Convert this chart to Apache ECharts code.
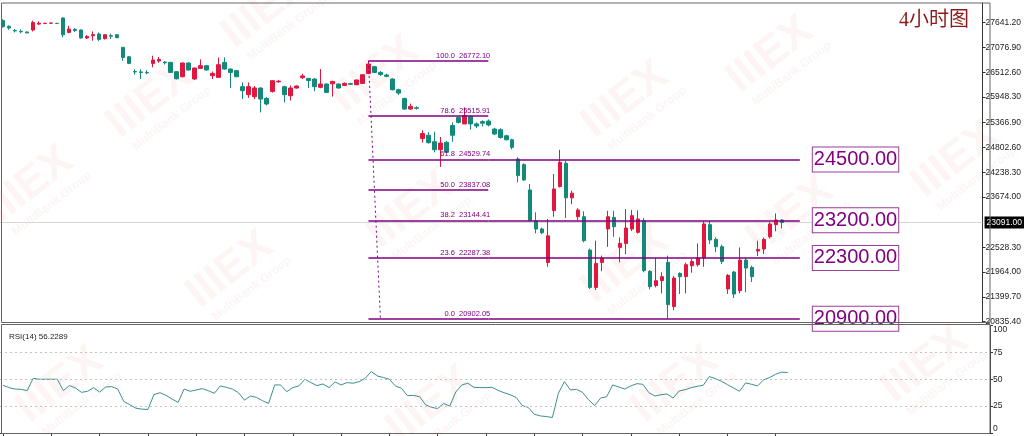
<!DOCTYPE html>
<html><head><meta charset="utf-8">
<script src="https://cdn.jsdelivr.net/npm/echarts@6/dist/echarts.min.js"></script>
<style>html,body{margin:0;padding:0;background:#fff}#c{width:1024px;height:436px}</style>
</head><body><div id="c"></div>
<script>
// ---- data ----
const opens = [27690,27560,27465,27445,27430,27475,27610,27625,27630,27625,
27748,27420,27490,27475,27293,27345,27383,27277,27345,27368,
27079,26866,26530,26520,26510,26715,26770,26745,26738,26526,
26412,26724,26360,26602,26664,26435,26397,26738,26587,26549,
26185,26003,25957,26155,25918,26078,26295,26185,25980,26155,
26390,26373,26360,26170,26246,26250,26246,26215,26255,26230,
26260,26487,26640,26510,26450,26360,26116,25918,25676,25705,
25004,25080,24933,24751,24918,25301,25486,25338,25512,25338,
25390,25403,25221,25206,25069,24978,24540,24412,23834,23136,
22946,22183,23363,23913,24443,23655,23226,23226,22467,21617,
22185,22946,23210,22527,22618,22946,22870,23136,21983,21657,
21770,22187,21179,21936,21861,22110,22133,22285,23045,22710,
22543,21580,21967,21542,22240,22072,22444,22490,22770,23045,
23151];
const closes = [27550,27520,27455,27435,27410,27648,27630,27627,27632,27623,
27367,27497,27462,27293,27330,27370,27262,27368,27335,27300,
26851,26715,26520,26510,26500,26792,26806,26730,26510,26365,
26724,26565,26610,26664,26565,26487,26686,26587,26510,26412,
26094,26185,26155,25904,25791,26321,26310,26003,26155,26200,
26430,26325,26185,26246,26055,26305,26155,26260,26240,26337,
26458,26701,26510,26465,26420,26116,26040,25676,25736,25695,
25118,24910,24751,24903,24690,25080,25372,25528,25338,25290,
25355,25315,25108,25030,24978,24804,24161,24063,23136,22946,
22860,22790,23857,24466,23655,23761,23379,22680,21617,22163,
22285,23226,22998,22618,22968,23249,23174,21998,21633,21770,
21861,21224,21830,21861,22133,22208,22285,23060,22696,22543,
22208,21891,21466,22240,22057,21861,22482,22710,23060,23151,
23091];
const lows = [27530,27480,27420,27400,27400,27443,27590,27610,27615,27610,
27307,27400,27430,27280,27270,27231,27220,27260,27270,27290,
26776,26700,26458,26360,26470,26626,26730,26690,26500,26350,
26400,26550,26340,26595,26550,26360,26390,26570,26155,26400,
25904,25930,25900,25600,25760,26050,26280,25828,25870,26140,
26360,26155,26080,26150,26040,25960,26140,26200,26225,26220,
26250,26470,26500,26430,26400,26100,26000,25660,25660,25665,
24913,24890,24690,24358,24680,24933,25350,25330,25206,25240,
25280,25280,25090,25000,24960,24760,24010,24040,23120,22847,
22830,22085,23226,23890,23196,23511,23140,22641,21580,21557,
21985,22540,22768,22187,22376,22900,22840,21960,21570,21617,
21480,20902.05,21100,21467,21480,21950,22090,22085,22605,22420,
22150,21467,21375,21480,21504,21740,22330,22376,22730,22892,
22960];
const highs = [27720,27580,27500,27490,27440,27686,27670,27640,27645,27640,
27762,27573,27520,27490,27360,27443,27420,27380,27390,27375,
27090,26880,26580,26580,26560,26890,26860,26770,26750,26540,
26740,26740,26620,26806,26680,26530,26851,26851,26600,26565,
26283,26280,26200,26170,25950,26330,26340,26208,26210,26215,
26480,26385,26380,26587,26260,26320,26260,26280,26275,26345,
26470,26772.1,26660,26540,26480,26375,26140,25935,25800,25740,
25193,25150,25160,25040,24950,25372,25510,25714,25530,25370,
25420,25440,25250,25240,25090,25000,24580,24440,23970,23325,
22980,23174,24197,24748,24503,23817,23420,23348,22500,22680,
22340,23360,23360,22755,23400,23380,23370,23200,22010,22285,
21960,22340,21880,21960,22180,22260,22618,23120,23130,22755,
22590,21920,21990,22527,22280,22110,22680,22750,23100,23300,
23170];
const rsi = [44.4,42.2,40.9,40.6,39.4,50.9,50.0,50.0,50.0,50.0,
39.4,44.1,41.9,37.8,38.8,42.2,38.1,42.8,43.1,40.9,
29.4,26.3,23.1,22.2,21.9,35.6,37.5,35.0,31.6,28.4,
40.9,38.8,40.0,41.3,39.4,36.9,43.8,42.5,40.9,37.5,
30.6,34.4,33.1,30.0,27.5,44.7,44.7,38.4,42.2,43.8,
50.0,46.9,44.1,45.6,42.2,47.5,44.7,46.9,46.3,47.8,
50.9,57.2,53.1,51.6,50.0,43.8,41.6,34.7,35.0,33.8,
26.3,23.8,22.8,27.5,25.0,38.1,44.7,46.3,42.5,42.2,
42.2,42.5,39.7,37.5,35.6,33.1,25.6,23.8,17.5,15.9,
15.3,14.4,36.9,47.8,40.0,40.6,37.8,30.9,25.6,32.5,
33.8,44.7,42.8,40.9,43.8,45.9,45.3,37.5,34.4,35.6,
36.3,32.5,39.1,40.3,42.2,43.4,44.4,52.5,50.6,48.1,
45.0,41.9,38.8,46.6,45.3,43.8,49.4,51.6,54.7,56.6,
56.2289];
const priceTicks = [27641.20,27076.90,26512.60,25948.30,25366.90,24802.60,24238.30,23674.00,22528.30,21964.00,21399.70,20835.40];
const rsiTicks = [0,25,50,75,100];
const rsiLevels = [25,50,75];
const currentPrice = 23091.00;
const fibRatios = [100.0,78.6,61.8,50.0,38.2,23.6,0.0];
const fibPrices = [26772.10,25515.91,24529.74,23837.08,23144.41,22287.38,20902.05];
const levelRatios = [61.8,38.2,23.6,0.0];
const levelLabels = ['24500.00','23200.00','22300.00','20900.00'];
const chartTitle = '4小时图';
const rsiTitle = 'RSI(14) 56.2289';
const totalSlots = 164;
const fibStart = 61, fibShortEnd = 81, levelEnd = 133, fibDashEnd = 63;

// ---- build ----
const cats = Array.from({length: totalSlots}, (_, i) => String(i));
const ohlc = opens.map((o, i) => [o, closes[i], lows[i], highs[i]]);
const PURPLE = '#800080';
const narrow = '"Liberation Sans Narrow","Liberation Sans",sans-serif';

const fibLines = [];
fibRatios.forEach((r, k) => {
  const p = fibPrices[k];
  fibLines.push([
    {coord: [fibStart, p], label: {show: true, position: 'insideEndTop', distance: [-2, 1],
      formatter: r.toFixed(1) + '  ' + p.toFixed(2), color: PURPLE, fontSize: 7.5, fontFamily: '"Liberation Sans",sans-serif'}},
    {coord: [fibShortEnd, p]}
  ]);
});
levelRatios.forEach((r, k) => {
  const p = fibPrices[fibRatios.indexOf(r)];
  fibLines.push([
    {coord: [fibShortEnd, p], label: {show: true, position: 'end', distance: 13,
      formatter: levelLabels[k], color: PURPLE, fontSize: 20, fontFamily: '"Liberation Sans",sans-serif',
      borderColor: '#9a3c9a', borderWidth: 1, padding: [3, 1, 1, 1], backgroundColor: '#fff'}},
    {coord: [levelEnd, p]}
  ]);
});
fibLines.push([
  {coord: [fibStart, fibPrices[0]], lineStyle: {type: [2, 3], width: 1, color: PURPLE}},
  {coord: [fibDashEnd, fibPrices[fibPrices.length - 1]]}
]);

function wm(x, y) {
  const fill = 'rgba(228,110,110,0.075)';
  return {type: 'group', x, y, rotation: 0.66, silent: true, z: 0, children: [
    {type: 'text', style: {text: 'IIIEX', font: 'bold 44px "Liberation Sans"', fill, align: 'center', verticalAlign: 'middle'}},
    {type: 'text', x: 6, y: 28, style: {text: 'MultiBank Group', font: 'bold 12px "Liberation Sans"', fill, align: 'center', verticalAlign: 'middle'}}
  ]};
}
const wmPos = [[375,75],[625,100],[770,55],[955,160],[30,185],[230,270],[410,210],[625,265],[790,215],[60,385],[430,405],[675,385],[925,365],[265,10],[150,100]];

const option = {
  animation: false,
  backgroundColor: '#fff',
  title: [
    {text: chartTitle, right: 50, top: 6, textStyle: {color: '#8b1a1a', fontSize: 20, fontWeight: 'normal', fontFamily: '"Liberation Serif","Noto Sans CJK SC",serif'}},
    {text: rsiTitle, left: 4, top: 328, textStyle: {color: '#222', fontSize: 8, fontWeight: 'normal', fontFamily: '"Liberation Sans",sans-serif'}}
  ],
  graphic: wmPos.map(p => wm(p[0], p[1])).concat([
    {type: 'rect', silent: true, z: 100, shape: {x: 1.5, y: 3, width: 988.5, height: 319.5}, style: {fill: 'none', stroke: '#666', lineWidth: 1}},
    {type: 'rect', silent: true, z: 100, shape: {x: 1.5, y: 324.5, width: 988.5, height: 109}, style: {fill: 'none', stroke: '#666', lineWidth: 1}}
  ]),
  grid: [
    {left: 0, right: 34, top: 3, height: 319},
    {left: 0, right: 34, top: 325.5, height: 107.5}
  ],
  xAxis: [
    {type: 'category', gridIndex: 0, data: cats, boundaryGap: true, axisLine: {show: false}, axisTick: {show: false}, axisLabel: {show: false}, splitLine: {show: false}},
    {type: 'category', gridIndex: 1, data: cats, boundaryGap: true,
      axisLine: {show: true, lineStyle: {color: '#444'}},
      axisTick: {show: true, alignWithLabel: true, length: 4, lineStyle: {color: '#444'}, interval: (i) => i % 8 === 0 && i < opens.length},
      axisLabel: {show: false}, splitLine: {show: false}}
  ],
  yAxis: [
    {type: 'value', gridIndex: 0, position: 'right', min: 20829, max: 28090, scale: true,
      axisLine: {show: true, lineStyle: {color: '#333'}},
      axisTick: {show: true, length: 3, customValues: priceTicks, lineStyle: {color: '#333'}},
      axisLabel: {show: true, customValues: priceTicks, formatter: v => v.toFixed(2), fontSize: 8.5, color: '#222', margin: 3, fontFamily: narrow},
      splitLine: {show: false}},
    {type: 'value', gridIndex: 1, position: 'right', min: 0, max: 100,
      axisLine: {show: true, lineStyle: {color: '#333'}},
      axisTick: {show: true, length: 3, customValues: rsiTicks, lineStyle: {color: '#333'}},
      axisLabel: {show: true, showMaxLabel: true, showMinLabel: true, hideOverlap: false, customValues: rsiTicks, margin: 3, fontSize: 8.5, color: '#222', fontFamily: narrow,
        formatter: v => v === 100 ? '{a|100}' : (v === 0 ? '{b|0}' : String(v)),
        rich: {a: {padding: [9, 0, 0, 0], fontSize: 8.5, color: '#222', fontFamily: narrow}, b: {padding: [0, 0, 9, 0], fontSize: 8.5, color: '#222', fontFamily: narrow}}},
      splitLine: {show: false}}
  ],
  series: [
    {type: 'candlestick', xAxisIndex: 0, yAxisIndex: 0, data: ohlc, barWidth: 4, z: 3,
      itemStyle: {color: '#e0173f', color0: '#14897a', borderColor: '#e0173f', borderColor0: '#14897a', borderWidth: 1},
      markLine: {silent: true, symbol: ['none', 'none'], z: 1,
        lineStyle: {color: '#d6d6d6', width: 1, type: 'solid'},
        data: [{yAxis: currentPrice, label: {show: true, position: 'end', distance: 2, formatter: currentPrice.toFixed(2),
          backgroundColor: '#000', color: '#fff', fontSize: 8.5, fontFamily: narrow, padding: [2, 2, 1, 2]}}]}},
    {type: 'line', xAxisIndex: 0, yAxisIndex: 0, data: [], z: 5,
      markLine: {silent: true, symbol: ['none', 'none'], lineStyle: {color: PURPLE, width: 1.6, type: 'solid'}, data: fibLines}},
    {type: 'line', xAxisIndex: 1, yAxisIndex: 1, data: rsi, showSymbol: false, symbol: 'none',
      lineStyle: {color: '#3d8f8f', width: 1}, z: 3,
      markLine: {silent: true, symbol: ['none', 'none'], label: {show: false},
        lineStyle: {color: '#c9c0c0', width: 1, type: [2, 3]},
        data: rsiLevels.map(v => ({yAxis: v}))}}
  ]
};
const chart = echarts.init(document.getElementById('c'), null, {renderer: 'canvas'});
chart.setOption(option);
</script></body></html>
